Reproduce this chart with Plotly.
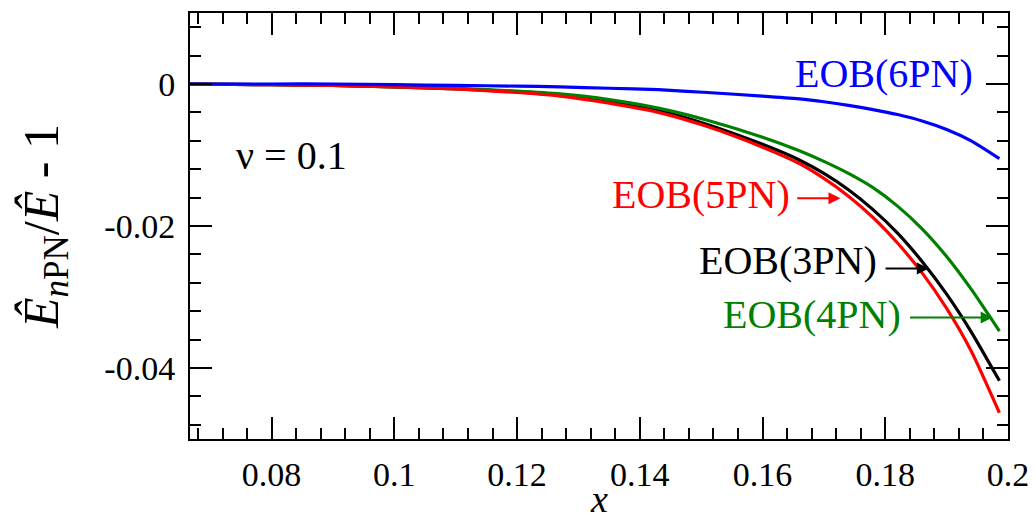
import plotly.graph_objects as go

# shared x grid
x_vals = [0.0667, 0.08, 0.09, 0.10, 0.11, 0.12, 0.127, 0.135, 0.143, 0.151,
          0.16, 0.166, 0.17, 0.174, 0.178, 0.182, 0.186, 0.19, 0.194, 0.1986]

eob_3pn = [0.0, -0.0001, -0.0002, -0.0004, -0.0007, -0.0011, -0.0016, -0.0025, -0.0037, -0.0057,
           -0.0085, -0.0107, -0.0126, -0.0149, -0.0177, -0.0210, -0.0250, -0.0296, -0.0349, -0.0418]
eob_4pn = [0.0, -0.0001, -0.0002, -0.0004, -0.0006, -0.0010, -0.0014, -0.0022, -0.0034, -0.0051,
           -0.0075, -0.0094, -0.0109, -0.0126, -0.0146, -0.0172, -0.0204, -0.0243, -0.0289, -0.0348]
eob_5pn = [0.0, -0.0001, -0.0002, -0.0004, -0.0007, -0.0012, -0.0017, -0.0027, -0.0040, -0.0060,
           -0.0089, -0.0112, -0.0133, -0.0158, -0.0188, -0.0224, -0.0266, -0.0316, -0.0376, -0.0463]
eob_6pn = [0.0, 0.0, 0.0, -0.0001, -0.0002, -0.0003, -0.0004, -0.0006, -0.0008, -0.0012,
           -0.0017, -0.0021, -0.0025, -0.0030, -0.0036, -0.0043, -0.0052, -0.0064, -0.0080, -0.0105]

series = [
    ("EOB(3PN)", eob_3pn, "#000000"),
    ("EOB(4PN)", eob_4pn, "#008000"),
    ("EOB(5PN)", eob_5pn, "#ff0000"),
    ("EOB(6PN)", eob_6pn, "#0000ff"),
]

x_tickvals = [0.08, 0.10, 0.12, 0.14, 0.16, 0.18, 0.20]
x_ticktext = ["0.08", "0.1", "0.12", "0.14", "0.16", "0.18", "0.2"]
y_tickvals = [0.0, -0.02, -0.04]
y_ticktext = ["0", "-0.02", "-0.04"]

FONT = "Times New Roman, Liberation Serif, serif"

fig = go.Figure()
for name, vals, col in series:
    fig.add_trace(go.Scatter(x=x_vals, y=vals, mode="lines", name=name,
                             line=dict(color=col, width=3.2, shape="spline", smoothing=0.6)))

axis_common = dict(
    showline=True, linecolor="black", linewidth=2, mirror="allticks",
    ticks="inside", tickcolor="black", tickwidth=1.5, ticklen=22,
    showgrid=False, zeroline=False, automargin=False,
    tickfont=dict(family=FONT, size=34, color="black"),
    minor=dict(ticks="inside", ticklen=11, tickwidth=1.5, tickcolor="black"),
)

fig.update_xaxes(range=[0.0667, 0.2], tickvals=x_tickvals, ticktext=x_ticktext,
                 minor_dtick=0.004, minor_tick0=0.0, ticklabelstandoff=4,
                 **axis_common)
fig.update_yaxes(range=[-0.05, 0.01], tickvals=y_tickvals, ticktext=y_ticktext,
                 minor_dtick=0.004, minor_tick0=0.0, ticklabelstandoff=6,
                 title=dict(text="<i>Ê</i><sub><i>n</i>PN</sub>/<i>Ê</i> - 1",
                            font=dict(family=FONT, size=50, color="black"), standoff=30),
                 **axis_common)

# x-axis title
fig.add_annotation(x=0.5, y=-0.14, xref="paper", yref="paper", text="<i>x</i>",
                   showarrow=False, font=dict(family=FONT, size=38, color="black"),
                   xanchor="center", yanchor="middle")

def txt(x, y, s, col, size=40):
    fig.add_annotation(x=x, y=y, xref="x", yref="y", text=s, showarrow=False,
                       font=dict(family=FONT, size=size, color=col),
                       xanchor="center", yanchor="middle")

def arr(x0, x1, y, col):
    fig.add_annotation(x=x1, y=y, ax=x0, ay=y, xref="x", yref="y", axref="x", ayref="y",
                       text="", showarrow=True, arrowhead=2, arrowsize=1.2,
                       arrowwidth=2, arrowcolor=col)

txt(0.0833, -0.0100, "ν = 0.1", "black")
txt(0.1798, 0.0015, "EOB(6PN)", "#0000ff")
txt(0.1499, -0.0155, "EOB(5PN)", "#ff0000")
arr(0.1654, 0.1727, -0.0161, "#ff0000")
txt(0.1641, -0.0248, "EOB(3PN)", "black")
arr(0.1798, 0.1871, -0.0260, "black")
txt(0.1680, -0.0324, "EOB(4PN)", "#008000")
arr(0.1838, 0.1975, -0.0329, "#008000")

# the page body has an 8 px default margin, so the figure is drawn 8 px smaller
fig.update_layout(
    width=1028, height=513,
    margin=dict(l=182, r=28, t=5, b=82),
    paper_bgcolor="white", plot_bgcolor="white",
    showlegend=False,
    font=dict(family=FONT, color="black"),
)

fig.write_html("out.html")
